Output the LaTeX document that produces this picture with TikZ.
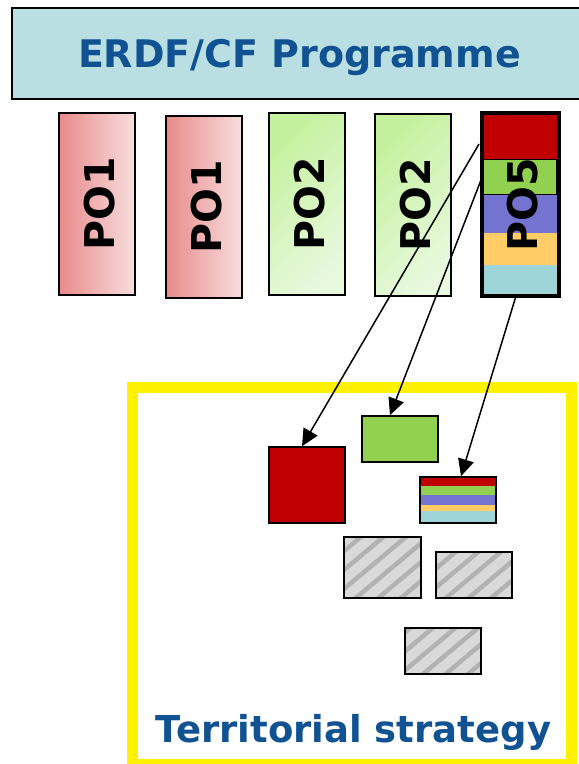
\documentclass[tikz,border=0pt]{standalone}
\usepackage{fontspec}
\setmainfont{DejaVu Sans}
\usetikzlibrary{arrows.meta,patterns.meta,positioning}
\definecolor{headfill}{RGB}{185,223,227}
\definecolor{headtext}{RGB}{17,82,146}
\definecolor{poredA}{RGB}{232,138,138}
\definecolor{poredB}{RGB}{248,222,222}
\definecolor{pogreenA}{RGB}{196,241,158}
\definecolor{pogreenB}{RGB}{232,249,222}
\definecolor{tred}{RGB}{192,0,0}
\definecolor{tgreen}{RGB}{146,208,80}
\definecolor{tblue}{RGB}{116,116,208}
\definecolor{tyellow}{RGB}{255,204,102}
\definecolor{tcyan}{RGB}{158,213,216}
\definecolor{hatchbg}{RGB}{217,217,217}
\definecolor{hatchln}{RGB}{178,178,178}
\tikzset{%
	header/.style  = {draw, rectangle, line width=1.8pt, fill=headfill, inner sep=0pt},
	title/.style   = {anchor=base, text=headtext, font=\bfseries\fontsize{38}{38}\selectfont},
	pobox/.style   = {draw, rectangle, line width=1.6pt, minimum width=76pt, minimum height=182pt, inner sep=0pt},
	polabel/.style = {rotate=90, anchor=base, font=\bfseries\fontsize{41}{41}\selectfont},
	block/.style   = {draw, rectangle, line width=1.6pt, minimum width=76pt, minimum height=46pt, inner sep=0pt},
	hatched/.style = {rectangle, minimum width=76pt, minimum height=46pt, inner sep=0pt, outer sep=0pt, preaction={fill=hatchbg}, pattern={Lines[angle=40,distance=14.5pt,line width=4.5pt]}, pattern color=hatchln},
	outline/.style = {line width=1.8pt},
	arrow/.style   = {line width=1.5pt, -{Triangle[length=17pt,width=16pt]}},
}
\begin{document}
\begin{tikzpicture}[x=1pt,y=-1pt]
	\useasboundingbox (0,0) rectangle (579,764);
	% programme header
	\node[header, minimum width=573pt, minimum height=91pt] (prog) at (298.5,53.5) {};
	\node[title] (progtitle) at (299.5,67) {ERDF/CF Programme};
	% priority axes
	\node[pobox, left color=poredA, right color=poredB] (po1a) at (97,204) {};
	\node[pobox, left color=poredA, right color=poredB] (po1b) at (204,207) {};
	\node[pobox, top color=pogreenA, bottom color=pogreenB, shading angle=45] (po2a) at (307,204) {};
	\node[pobox, top color=pogreenA, bottom color=pogreenB, shading angle=45] (po2b) at (413,205) {};
	\fill[tred] (482,113) rectangle (559,159);
	\fill[tblue] (482,194) rectangle (559,233);
	\fill[tyellow] (482,233) rectangle (559,265);
	\fill[tcyan] (482,265) rectangle (559,296);
	\draw[fill=tgreen, line width=1pt] (480,159) rectangle (556,194);
	\node[pobox, line width=3.2pt, minimum width=77pt, minimum height=183pt] (po5) at (520.5,204.5) {};
	\node[polabel] (lbl1a) at ([xshift=17pt]po1a.center) {PO1};
	\node[polabel] (lbl1b) at ([xshift=17pt]po1b.center) {PO1};
	\node[polabel] (lbl2a) at ([xshift=17pt]po2a.center) {PO2};
	\node[polabel] (lbl2b) at ([xshift=17pt]po2b.center) {PO2};
	\node[polabel] (lbl5) at ([xshift=17pt]po5.center) {PO5};
	% territorial strategy
	\node[draw=yellow, line width=11pt, minimum width=439pt, minimum height=377pt, inner sep=0pt] (strategy) at (352,575.5) {};
	\node[block, fill=tred, minimum height=76pt] (red) at (307,485) {};
	\node[block, fill=tgreen] (green) at (400,439) {};
	\fill[tred] (420,477) rectangle (496,486);
	\fill[tgreen] (420,486) rectangle (496,495);
	\fill[tblue] (420,495) rectangle (496,505);
	\fill[tyellow] (420,505) rectangle (496,511);
	\fill[tcyan] (420,511) rectangle (496,523);
	\node[block] (mix) at (458,500) {};
	\node[hatched, minimum width=77pt, minimum height=61pt] (hatch1) at (382.5,567.5) {};
	\node[hatched] (hatch2) at (474,575) {};
	\node[hatched] (hatch3) at (443,651) {};
	\foreach \h in {hatch1,hatch2,hatch3}
		\draw[outline] (\h.north west) rectangle (\h.south east);
	\node[title, font=\bfseries\fontsize{37}{37}\selectfont] (strattitle) at (353.5,742) {Territorial strategy};
	% arrows
	\coordinate (from1) at (479,144);
	\coordinate (from2) at (481,180);
	\draw[arrow] (from1) -- ([xshift=-5pt]red.north);
	\draw[arrow] (from2) -- ([xshift=-10pt]green.north);
	\draw[arrow] ([xshift=-5pt]po5.south) -- ([xshift=3pt]mix.north);
\end{tikzpicture}
\end{document}
